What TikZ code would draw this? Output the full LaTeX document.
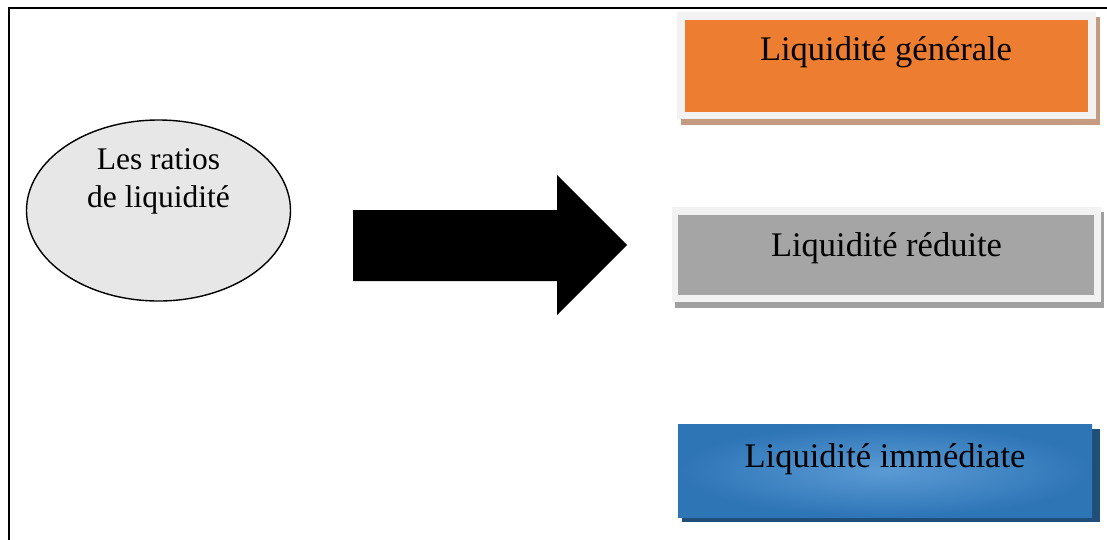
\documentclass[tikz,border=0pt]{standalone}
\usepackage{fontspec}
\setmainfont{Liberation Serif}
\usetikzlibrary{shapes.geometric}
\definecolor{orangebox}{HTML}{ED7D31}
\definecolor{orangeshadow}{HTML}{C49A80}
\definecolor{framelight}{HTML}{F2F2F2}
\definecolor{graybox}{HTML}{A5A5A5}
\definecolor{grayshadow}{HTML}{A0A0A0}
\definecolor{bluedark}{HTML}{2E75B6}
\definecolor{bluelight}{HTML}{5B9BD5}
\definecolor{blueshadow}{HTML}{1F4E79}
\definecolor{ellfill}{HTML}{E7E7E7}
\tikzset{
  boxtext/.style={font=\fontsize{34.5}{40}\selectfont, inner sep=0pt, anchor=center},
  elltext/.style={font=\fontsize{31.5}{38}\selectfont, align=center, inner sep=0pt},
}
\begin{document}
\begin{tikzpicture}[x=1pt,y=-1pt]
\useasboundingbox (0,0) rectangle (1107,539);
\fill[white] (0,0) rectangle (1107,539);
% frame
\draw[line width=1.6pt] (9,545) -- (9,8) -- (1115,8);
% ellipse
\node[ellipse, draw, line width=1.4pt, fill=ellfill, minimum width=264pt, minimum height=181pt, inner sep=0pt] (ratios) at (158.5,210.5) {};
\node[elltext] (ratiostext) at (158.5,181) {Les ratios\\de liquidité};
% big arrow
\fill[black] (353,210) -- (557,210) -- (557,175) -- (627,245) -- (557,315) -- (557,281) -- (353,281) -- cycle;
% box 1
\fill[orangeshadow] (681,17) rectangle (1100,125);
\fill[framelight] (677,12) rectangle (1096,119);
\node[fill=orangebox, minimum width=403pt, minimum height=92pt, inner sep=0pt, anchor=north west] (generale) at (685,19.5) {};
\node[boxtext] (generaletext) at (886,52.5) {Liquidité générale};
% box 2
\fill[grayshadow] (675,212) rectangle (1104,308);
\fill[framelight] (672,207) rectangle (1101,302);
\node[fill=graybox, minimum width=416pt, minimum height=80pt, inner sep=0pt, anchor=north west] (reduite) at (678,215) {};
\node[boxtext] (reduitetext) at (886.5,248.5) {Liquidité réduite};
% box 3
\fill[blueshadow] (682,429) rectangle (1100,522);
\shade[inner color=bluelight, outer color=bluedark] (678,424) rectangle (1092,517);
\node[minimum width=414pt, minimum height=93pt, inner sep=0pt, anchor=north west] (immediate) at (678,424) {};
\node[boxtext] (immediatetext) at (885,459.5) {Liquidité immédiate};
\end{tikzpicture}
\end{document}
